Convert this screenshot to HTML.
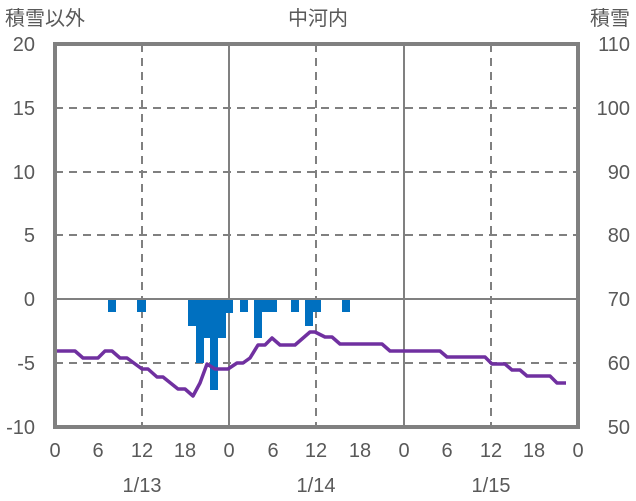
<!DOCTYPE html>
<html><head><meta charset="utf-8"><style>body{margin:0;background:#fff}svg{display:block}text{font-family:"Liberation Sans","Noto Sans CJK JP",sans-serif;fill:#595959;font-size:20px}</style></head><body>
<svg width="636" height="501" viewBox="0 0 636 501">
<g stroke="#808080" stroke-width="2" stroke-dasharray="8,6" fill="none">
<line x1="55" y1="108" x2="578" y2="108"/><line x1="55" y1="172" x2="578" y2="172"/><line x1="55" y1="235" x2="578" y2="235"/><line x1="55" y1="363" x2="578" y2="363"/>
<line x1="142" y1="44" x2="142" y2="427"/><line x1="316" y1="44" x2="316" y2="427"/><line x1="491" y1="44" x2="491" y2="427"/>
</g>
<g stroke="#808080" stroke-width="2"><line x1="229" y1="44" x2="229" y2="427"/><line x1="404" y1="44" x2="404" y2="427"/></g>
<g fill="#0070C0">
<rect x="108" y="299" width="8" height="13"/><rect x="137" y="299" width="9" height="13"/>
<rect x="188" y="299" width="9" height="27"/><rect x="196" y="299" width="8" height="64"/><rect x="204" y="299" width="6" height="39"/><rect x="210" y="299" width="8" height="91"/><rect x="218" y="299" width="8" height="39"/><rect x="226" y="299" width="7" height="14"/>
<rect x="240" y="299" width="8" height="13"/><rect x="254" y="299" width="8" height="39"/><rect x="262" y="299" width="15" height="13"/>
<rect x="291" y="299" width="8" height="13"/><rect x="305" y="299" width="8" height="27"/><rect x="313" y="299" width="8" height="13"/><rect x="342" y="299" width="8" height="13"/>
</g>
<line x1="55" y1="299" x2="578" y2="299" stroke="#808080" stroke-width="2"/>
<polyline fill="none" stroke="#7030A0" stroke-width="3.5" stroke-linejoin="round" points="53,351 75,351 83,358 98,358 105,351 112,351 120,358 127,358 142,369 148,369 157,377 163,377 178,389 185,389 193,396 200,383 207,364 215,369 228,369 237,363 243,363 250,358 258,345 265,345 272,338 280,345 295,345 310,332 315,332 325,337 332,337 340,344 382,344 390,351 440,351 447,357 485,357 492,364 505,364 512,370 520,370 527,376 550,376 557,383 566,383"/>
<rect x="55" y="44" width="523" height="383" fill="none" stroke="#808080" stroke-width="4"/>
<text x="5" y="25">積雪以外</text><text x="318" y="25" text-anchor="middle">中河内</text><text x="630" y="25" text-anchor="end">積雪</text>
<g text-anchor="end"><text x="35" y="51">20</text><text x="35" y="115">15</text><text x="35" y="179">10</text><text x="35" y="242">5</text><text x="35" y="306">0</text><text x="35" y="370">-5</text><text x="35" y="434">-10</text></g>
<g text-anchor="end"><text x="630" y="51">110</text><text x="630" y="115">100</text><text x="630" y="179">90</text><text x="630" y="242">80</text><text x="630" y="306">70</text><text x="630" y="370">60</text><text x="630" y="434">50</text></g>
<g text-anchor="middle"><text x="55" y="457">0</text><text x="98" y="457">6</text><text x="142" y="457">12</text><text x="185" y="457">18</text><text x="229" y="457">0</text><text x="273" y="457">6</text><text x="316" y="457">12</text><text x="360" y="457">18</text><text x="404" y="457">0</text><text x="447" y="457">6</text><text x="491" y="457">12</text><text x="534" y="457">18</text><text x="578" y="457">0</text>
<text x="142" y="492">1/13</text><text x="316" y="492">1/14</text><text x="491" y="492">1/15</text></g>
</svg>
</body></html>
